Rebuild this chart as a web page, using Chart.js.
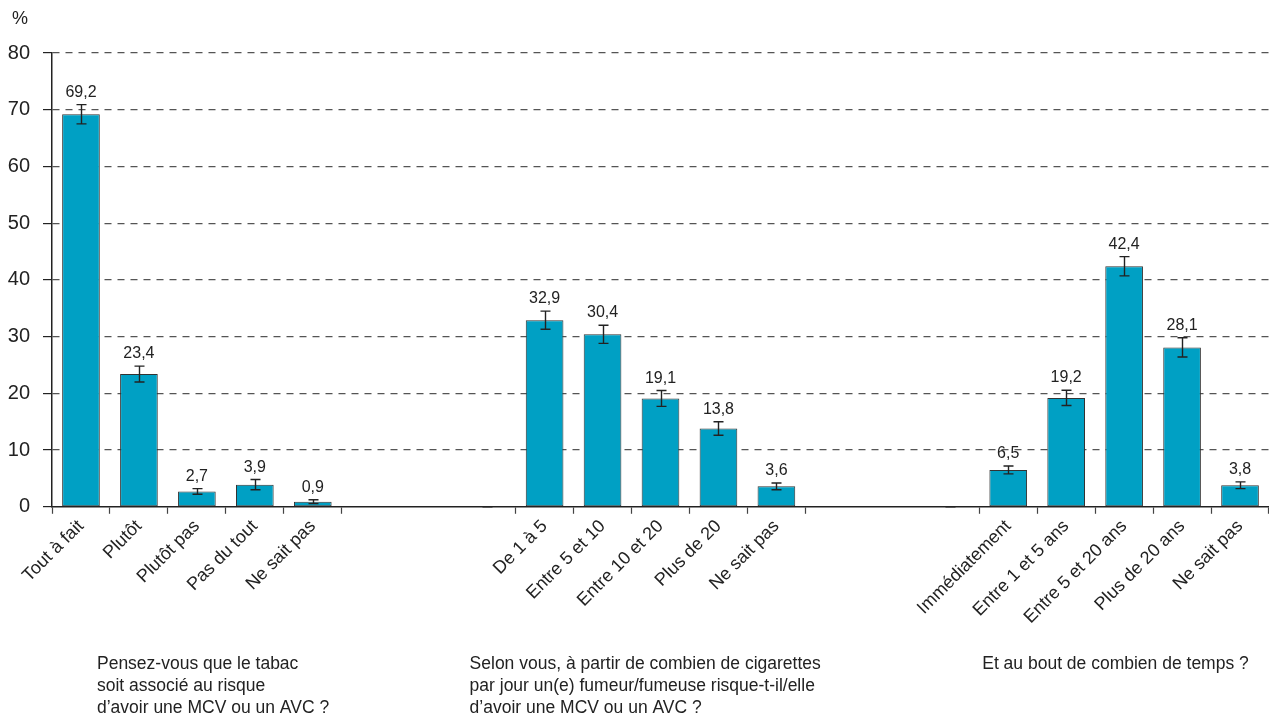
<!DOCTYPE html>
<html lang="fr">
<head>
    <meta charset="UTF-8">
    <title>MCV / AVC et tabac</title>
    <script src="https://cdn.jsdelivr.net/npm/chart.js"></script>
    <style>
        html, body { margin: 0; padding: 0; background: #fff; }
        #wrap { width: 1269px; height: 719px; position: relative; }
    </style>
</head>
<body>
    <div id="wrap"><canvas id="chart"></canvas></div>

    <script>
        // categories (empty slots separate the three questions)
        const categories = [
            'Tout à fait', 'Plutôt', 'Plutôt pas', 'Pas du tout', 'Ne sait pas',
            '', '', '',
            'De 1 à 5', 'Entre 5 et 10', 'Entre 10 et 20', 'Plus de 20', 'Ne sait pas',
            '', '', '',
            'Immédiatement', 'Entre 1 et 5 ans', 'Entre 5 et 20 ans', 'Plus de 20 ans', 'Ne sait pas'
        ];
        const values = [69.2, 23.4, 2.7, 3.9, 0.9, null, null, 0,
                        32.9, 30.4, 19.1, 13.8, 3.6, null, null, 0,
                        6.5, 19.2, 42.4, 28.1, 3.8];
        // half-width of the confidence interval
        const errors = [1.7, 1.4, 0.5, 0.9, 0.35, null, null, 0,
                        1.6, 1.6, 1.4, 1.2, 0.6, null, null, 0,
                        0.7, 1.35, 1.7, 1.7, 0.6];
        const yTicks = [0, 10, 20, 30, 40, 50, 60, 70, 80];
        const questions = [
            ['Pensez-vous que le tabac', 'soit associé au risque', 'd’avoir une MCV ou un AVC ?'],
            ['Selon vous, à partir de combien de cigarettes', 'par jour un(e) fumeur/fumeuse risque-t-il/elle', 'd’avoir une MCV ou un AVC ?'],
            ['Et au bout de combien de temps ?']
        ];

        const FONT = "'Liberation Sans Narrow', 'Liberation Sans', Arial, sans-serif";
        const fmt = v => v.toFixed(1).replace('.', ',');

        // which slot boundaries get an axis tick (only around bar groups)
        const tickBoundaries = [0, 1, 2, 3, 4, 5, 8, 9, 10, 11, 12, 13, 16, 17, 18, 19, 20, 21];

        const errorBars = {
            id: 'errorBars',
            afterDatasetsDraw(chart) {
                const ctx = chart.ctx;
                const y = chart.scales.y;
                const meta = chart.getDatasetMeta(0);
                ctx.save();
                ctx.strokeStyle = '#222';
                ctx.lineWidth = 1.4;
                meta.data.forEach((bar, i) => {
                    const v = values[i], e = errors[i];
                    if (v === null || e === null) return;
                    const x = Math.round(bar.x) + 0.5;
                    const top = y.getPixelForValue(v + e);
                    const bot = y.getPixelForValue(v - e);
                    ctx.beginPath();
                    ctx.moveTo(x, top); ctx.lineTo(x, bot);
                    ctx.moveTo(x - 5, top); ctx.lineTo(x + 5, top);
                    ctx.moveTo(x - 5, bot); ctx.lineTo(x + 5, bot);
                    ctx.stroke();
                    if (v > 0) {
                        ctx.fillStyle = '#222';
                        ctx.font = '16px ' + FONT;
                        ctx.textAlign = 'center';
                        ctx.textBaseline = 'alphabetic';
                        ctx.fillText(fmt(v), bar.x, top - 8);
                    }
                });
                ctx.restore();
            }
        };

        const extras = {
            id: 'extras',
            afterDraw(chart) {
                const ctx = chart.ctx;
                const x = chart.scales.x;
                ctx.save();
                ctx.fillStyle = '#222';
                ctx.font = '18px ' + FONT;
                ctx.textAlign = 'left';
                ctx.textBaseline = 'middle';
                ctx.fillText('%', 12, 19);

                ctx.font = '17.5px ' + FONT;
                const anchors = [x.getPixelForValue(0) + 16, x.getPixelForValue(8) - 75, x.getPixelForValue(16) - 26];
                questions.forEach((lines, g) => {
                    lines.forEach((line, k) => ctx.fillText(line, anchors[g], 664 + k * 22));
                });
                ctx.restore();
            }
        };

        new Chart(document.getElementById('chart'), {
            type: 'bar',
            data: {
                labels: categories,
                datasets: [{
                    data: values,
                    backgroundColor: '#00a0c4',
                    borderColor: '#333',
                    borderWidth: c => (c.raw === 0 ? 0 : 1),
                    borderSkipped: false,
                    categoryPercentage: 1,
                    barPercentage: 0.65
                }]
            },
            options: {
                responsive: true,
                maintainAspectRatio: false,
                animation: false,
                layout: { padding: { top: 53, right: 0, bottom: 89, left: 0 } },
                plugins: { legend: { display: false }, tooltip: { enabled: false } },
                scales: {
                    x: {
                        offset: true,
                        grid: {
                            offset: true,
                            drawOnChartArea: false,
                            tickLength: 7,
                            tickWidth: 1.2,
                            color: c => {
                                if (c.type !== 'tick') return '#444';
                                return tickBoundaries.includes(c.index) ? '#444' : 'rgba(0,0,0,0)';
                            }
                        },
                        border: { color: '#222', width: 1.5 },
                        ticks: {
                            autoSkip: false,
                            maxRotation: 45,
                            minRotation: 45,
                            padding: 2,
                            color: '#222',
                            font: { family: FONT, size: 18 }
                        }
                    },
                    y: {
                        min: 0,
                        max: 80,
                        afterBuildTicks: s => { s.ticks = yTicks.map(v => ({ value: v })); },
                        afterFit: s => { s.width = 52; },
                        grid: {
                            color: c => (c.tick && c.tick.value === 0 ? 'rgba(0,0,0,0)' : '#555'),
                            lineWidth: 1.2,
                            tickLength: 9,
                            tickColor: '#222'
                        },
                        border: { display: true, color: '#222', width: 1.5, dash: [7, 6] },
                        ticks: {
                            padding: 13,
                            color: '#222',
                            font: { family: FONT, size: 20 }
                        }
                    }
                }
            },
            plugins: [errorBars, extras]
        });
    </script>
</body>
</html>
